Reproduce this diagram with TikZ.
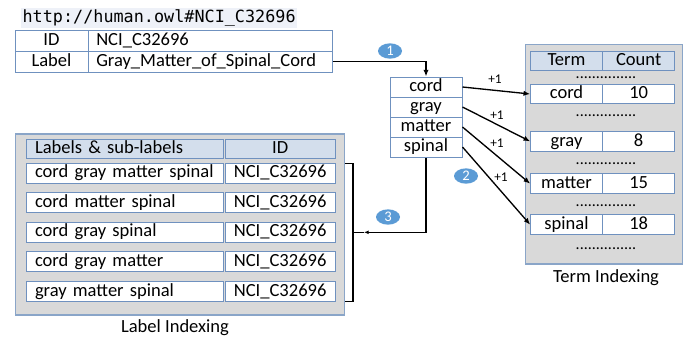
\documentclass[tikz,border=0pt]{standalone}
\usepackage{fontspec}
\setmainfont{Carlito}
\newfontfamily\urlfont{DejaVu Sans Mono}
\usetikzlibrary{shapes.geometric,arrows.meta}
\definecolor{cellblue}{HTML}{6F91BF}
\definecolor{panelgray}{HTML}{D9D9D9}
\definecolor{panelborder}{HTML}{8AA5C8}
\definecolor{hdrfill}{HTML}{D3DEEC}
\definecolor{urlbg}{HTML}{EEF1F8}
\definecolor{stepblue}{HTML}{5B9BD5}
\begin{document}
\begin{tikzpicture}[x=0.75pt,y=-0.75pt,
  cellbox/.style={draw=cellblue, line width=0.75pt, fill=white, inner sep=0pt,
    font=\fontsize{13.9}{15}\selectfont, text height=9.6pt, text depth=2.6pt},
  lcell/.style={cellbox, align=left, text width=#1, inner xsep=6.2pt},
  hdrbox/.style={cellbox, fill=hdrfill},
  lhdr/.style={lcell=#1, fill=hdrfill},
  panelbox/.style={draw=panelborder, line width=0.9pt, fill=panelgray, inner sep=0pt},
  conn/.style={draw=black, line width=1pt},
  arr/.style={conn, -{Latex[length=5pt,width=4pt]}},
  stepnum/.style={ellipse, fill=stepblue, text=white, inner sep=0pt,
    minimum width=18pt, minimum height=11.5pt, font=\fontsize{11}{12}\selectfont},
  plusone/.style={font=\fontsize{10}{11}\selectfont, inner sep=0pt},
  dotrow/.style={font=\fontsize{12}{13}\selectfont, inner sep=0pt},
  caption/.style={font=\fontsize{13.9}{15}\selectfont, inner sep=0pt}
]
\useasboundingbox (0,0) rectangle (691,336);

% URL
\node[font=\urlfont\fontsize{12.6}{14}\selectfont, fill=urlbg, inner sep=1pt, anchor=west]
  (url) at (21,18) {http://human.owl\#NCI\_C32696};

% Concept table
\node[cellbox, minimum width=54.75pt, minimum height=15.4pt] (t1idk) at (51.5,41.25) {ID};
\node[lcell=170.6pt, minimum height=15.4pt] (t1idv) at (210,41.25) {NCI\_C32696};
\node[cellbox, minimum width=54.75pt, minimum height=15.4pt] (t1lk) at (51.5,61.75) {Label};
\node[lcell=170.6pt, minimum height=15.4pt] (t1lv) at (210,61.75) {Gray\_Matter\_of\_Spinal\_Cord};

% Words box
\node[cellbox, minimum width=54pt, minimum height=15pt] (wcord) at (426,87) {cord};
\node[cellbox, minimum width=54pt, minimum height=15pt] (wgray) at (426,107) {gray};
\node[cellbox, minimum width=54pt, minimum height=15pt] (wmatter) at (426,127) {matter};
\node[cellbox, minimum width=54pt, minimum height=15pt] (wspinal) at (426,147) {spinal};

% Term indexing panel
\node[panelbox, minimum width=117.75pt, minimum height=164.8pt] (tpanel) at (604.2,154.15) {};
\node[hdrbox, minimum width=53.7pt, minimum height=14.3pt] (thterm) at (566.5,61.2) {Term};
\node[hdrbox, minimum width=54.5pt, minimum height=14.3pt] (thcount) at (638.65,61.2) {Count};
\node[dotrow] (td1) at (606,78) {...............};
\node[cellbox, minimum width=53.7pt, minimum height=14.6pt] (tcord) at (566.5,94) {cord};
\node[cellbox, minimum width=54.5pt, minimum height=14.6pt] (tcordn) at (638.65,94) {10};
\node[dotrow] (td2) at (606,116) {...............};
\node[cellbox, minimum width=53.7pt, minimum height=14.6pt] (tgray) at (566.5,141.4) {gray};
\node[cellbox, minimum width=54.5pt, minimum height=14.6pt] (tgrayn) at (638.65,141.4) {8};
\node[dotrow] (td3) at (606,164) {...............};
\node[cellbox, minimum width=53.7pt, minimum height=14.6pt] (tmatter) at (566.5,183.7) {matter};
\node[cellbox, minimum width=54.5pt, minimum height=14.6pt] (tmattern) at (638.65,183.7) {15};
\node[dotrow] (td4) at (606,206) {...............};
\node[cellbox, minimum width=53.7pt, minimum height=14.6pt] (tspinal) at (566.5,224.7) {spinal};
\node[cellbox, minimum width=54.5pt, minimum height=14.6pt] (tspinaln) at (638.65,224.7) {18};
\node[dotrow] (td5) at (606,249) {...............};
\node[caption] (tcap) at (606,278) {Term Indexing};

% Label indexing panel
\node[panelbox, minimum width=246.45pt, minimum height=135.75pt] (lpanel) at (180,224.5) {};
\node[lhdr=135pt, minimum height=14.25pt] (lhl) at (125,148.8) {Labels \& sub-labels};
\node[hdrbox, minimum width=82.3pt, minimum height=14.25pt] (lhid) at (280.15,148.8) {ID};
\node[lcell=135pt, minimum height=14.6pt] (l1) at (125,173.3) {cord gray matter spinal};
\node[cellbox, minimum width=82.3pt, minimum height=14.6pt] (l1id) at (280.15,173.3) {NCI\_C32696};
\node[lcell=135pt, minimum height=14.6pt] (l2) at (125,202.4) {cord matter spinal};
\node[cellbox, minimum width=82.3pt, minimum height=14.6pt] (l2id) at (280.15,202.4) {NCI\_C32696};
\node[lcell=135pt, minimum height=14.6pt] (l3) at (125,232.3) {cord gray spinal};
\node[cellbox, minimum width=82.3pt, minimum height=14.6pt] (l3id) at (280.15,232.3) {NCI\_C32696};
\node[lcell=135pt, minimum height=14.6pt] (l4) at (125,261.4) {cord gray matter};
\node[cellbox, minimum width=82.3pt, minimum height=14.6pt] (l4id) at (280.15,261.4) {NCI\_C32696};
\node[lcell=135pt, minimum height=14.6pt] (l5) at (125,291.4) {gray matter spinal};
\node[cellbox, minimum width=82.3pt, minimum height=14.6pt] (l5id) at (280.15,291.4) {NCI\_C32696};
\node[caption] (lcap) at (175,328) {Label Indexing};

% Step 1
\draw[arr] (t1lv.east) -| (wcord.north);
\node[stepnum] (s1) at (390,51) {1};

% Step 2 arrows
\draw[arr] (wcord.east) -- (tcord.west);
\draw[arr] (wgray.east) -- (tgray.west);
\draw[arr] (wmatter.east) -- (tmatter.west);
\draw[arr] (wspinal.east) -- (tspinal.west);
\node[plusone] (p1) at (495,79) {+1};
\node[plusone] (p2) at (497,115) {+1};
\node[plusone] (p3) at (497,143) {+1};
\node[plusone] (p4) at (501,177) {+1};
\node[stepnum] (s2) at (466,176) {2};

% Step 3
\coordinate (brk) at (353,232.3);
\coordinate (tip3) at (364,232.3);
\draw[conn] (345,163.3) -- (353,163.3) -- (353,301.2) -- (345,301.2);
\draw[conn, -{Latex[length=3.5pt,width=3pt]}] (wspinal.south) |- (tip3);
\draw[conn] (tip3) -- (brk);
\node[stepnum] (s3) at (388,217) {3};
\end{tikzpicture}
\end{document}
